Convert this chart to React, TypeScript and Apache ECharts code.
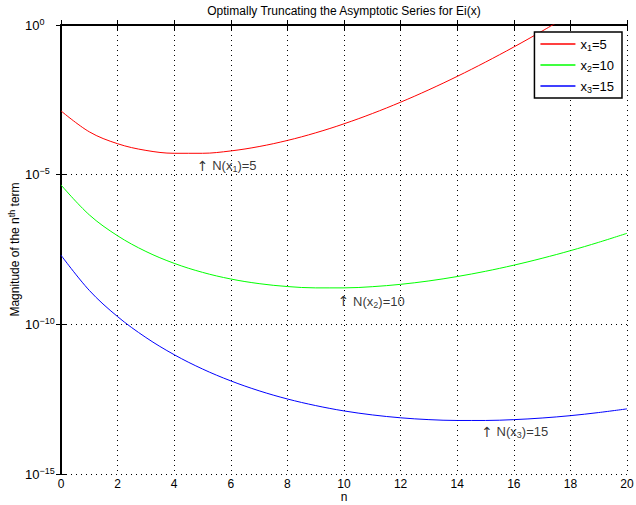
import React, { useEffect, useRef } from "react";
import * as echarts from "echarts";

const nValues = [0, 1, 2, 3, 4, 5, 6, 7, 8, 9, 10, 11, 12, 13, 14, 15, 16, 17, 18, 19, 20];

// Magnitude of the n-th term
const x1Series = [
  1.35e-3, 2.70e-4, 1.08e-4, 6.47e-5, 5.18e-5, 5.18e-5, 6.21e-5, 8.70e-5, 1.39e-4, 2.50e-4,
  5.00e-4, 1.10e-3, 2.64e-3, 6.86e-3, 1.92e-2, 5.76e-2, 0.184, 0.626, 2.25,
];
const x2Series = [
  4.54e-6, 4.54e-7, 9.08e-8, 2.72e-8, 1.09e-8, 5.45e-9, 3.27e-9, 2.29e-9, 1.83e-9, 1.65e-9,
  1.65e-9, 1.81e-9, 2.17e-9, 2.82e-9, 3.95e-9, 5.92e-9, 9.47e-9, 1.61e-8, 2.89e-8, 5.50e-8, 1.10e-7,
];
const x3Series = [
  2.04e-8, 1.36e-9, 1.81e-10, 3.63e-11, 9.67e-12, 3.22e-12, 1.29e-12, 6.02e-13, 3.21e-13, 1.93e-13,
  1.28e-13, 9.42e-14, 7.54e-14, 6.55e-14, 6.14e-14, 6.14e-14, 6.55e-14, 7.42e-14, 8.89e-14, 1.13e-13, 1.50e-13,
];

const seriesNames = ["x1=5", "x2=10", "x3=15"];
const legendRich = ["{n|x}{s|1}{n|=5}", "{n|x}{s|2}{n|=10}", "{n|x}{s|3}{n|=15}"];

// annotation positions (n, magnitude) and texts
const annotX = [4.8, 9.78, 14.85];
const annotY = [1.95e-5, 5.8e-10, 2.6e-14];
const annotText = ["{a|↑}{n| N(x}{s|1}{n|)=5}", "{a|↑}{n| N(x}{s|2}{n|)=10}", "{a|↑}{n| N(x}{s|3}{n|)=15}"];

const FONT = "Liberation Sans";

export default function App() {
  const ref = useRef<HTMLDivElement>(null);
  useEffect(() => {
    document.body.style.margin = "0";
    if (!ref.current) return;
    const chart = echarts.init(ref.current, null, { renderer: "svg" });
    const toPts = (arr: number[]) => arr.map((v, i) => [nValues[i], Math.log10(v)]);
    const subRich = {
      a: { fontSize: 14, fontFamily: "DejaVu Sans", color: "#000", lineHeight: 16 },
      n: { fontSize: 13, fontFamily: FONT, color: "#000", lineHeight: 16 },
      s: { fontSize: 9, fontFamily: FONT, color: "#000", lineHeight: 9, verticalAlign: "bottom", padding: [8, 0, 0, 0] },
    };
    const colors = ["#ff0000", "#00ff00", "#0000ff"];
    const datas = [x1Series, x2Series, x3Series];
    const option: any = {
      animation: false,
      backgroundColor: "#fff",
      grid: { left: 61, right: 9, top: 25, bottom: 31, containLabel: false, outerBoundsMode: "none" },
      graphic: [
        {
          type: "text",
          x: 344,
          y: 11,
          style: {
            text: "Optimally Truncating the Asymptotic Series for Ei(x)",
            fontSize: 12,
            fontFamily: FONT,
            fill: "#000",
            textAlign: "center",
            textVerticalAlign: "middle",
          },
        },
      ],
      legend: {
        orient: "vertical",
        right: 14,
        top: 32,
        data: seriesNames,
        icon: "rect",
        itemWidth: 35,
        itemHeight: 1.5,
        itemGap: 4,
        backgroundColor: "#fff",
        borderColor: "#000",
        borderWidth: 1.5,
        borderRadius: 0,
        padding: [3, 8, 4, 6],
        formatter: (name: string) => legendRich[seriesNames.indexOf(name)],
        textStyle: { rich: subRich, padding: [0, 0, 0, 0] },
      },
      xAxis: [
        {
          type: "value",
          min: 0,
          max: 20,
          interval: 2,
          name: "n",
          nameLocation: "middle",
          nameGap: 17,
          nameMoveOverlap: false,
          nameTextStyle: { fontSize: 12, fontFamily: FONT, color: "#000" },
          axisLine: { lineStyle: { color: "#000", width: 2 } },
          axisTick: { inside: true, length: 5, lineStyle: { color: "#000" } },
          axisLabel: { fontSize: 12, fontFamily: FONT, color: "#000", margin: 4 },
          splitLine: { show: true, lineStyle: { color: "#000", type: [1, 4], width: 1 } },
        },
        {
          type: "value",
          position: "top",
          min: 0,
          max: 20,
          interval: 2,
          axisLine: { lineStyle: { color: "#000", width: 1 } },
          axisTick: { inside: true, length: 5, lineStyle: { color: "#000" } },
          axisLabel: { show: false },
          splitLine: { show: false },
        },
      ],
      yAxis: [
        {
          type: "value",
          min: -15,
          max: 0,
          interval: 5,
          name: "{n|Magnitude of the n}{p|th}{n| term}",
          nameLocation: "middle",
          nameGap: 38,
          nameMoveOverlap: false,
          nameRotate: 90,
          nameTextStyle: {
            rich: {
              n: { fontSize: 12, fontFamily: FONT, color: "#000", lineHeight: 16 },
              p: { fontSize: 9, fontFamily: FONT, color: "#000", lineHeight: 9, verticalAlign: "top" },
            },
          },
          axisLine: { lineStyle: { color: "#000", width: 2 } },
          axisTick: { inside: true, length: 5, lineStyle: { color: "#000" } },
          axisLabel: {
            margin: 36,
            align: "left",
            formatter: (v: number) =>
              "{b|10}{s|" + (v === 0 ? "0" : "\u2212" + String(-v)) + "}",
            rich: {
              b: { fontSize: 13, fontFamily: FONT, color: "#000", lineHeight: 16 },
              s: { fontSize: 9, fontFamily: FONT, color: "#000", lineHeight: 9, verticalAlign: "top" },
            },
          },
          splitLine: { show: true, lineStyle: { color: "#000", type: [1, 4], width: 1 } },
        },
        {
          type: "value",
          position: "right",
          min: -15,
          max: 0,
          interval: 5,
          axisLine: { lineStyle: { color: "#000", width: 1 } },
          axisTick: { inside: true, length: 5, lineStyle: { color: "#000" } },
          axisLabel: { show: false },
          splitLine: { show: false },
        },
      ],
      series: [
        ...datas.map((d, i) => ({
          name: seriesNames[i],
          type: "line",
          data: toPts(d),
          showSymbol: false,
          symbol: "none",
          smooth: 0.35,
          clip: true,
          lineStyle: { color: colors[i], width: 1 },
          itemStyle: { color: colors[i] },
        })),
        {
          name: "annotations",
          type: "scatter",
          symbolSize: 0,
          silent: true,
          data: annotX.map((x, i) => ({
            value: [x, Math.log10(annotY[i])],
            label: {
              show: true,
              position: "right",
              distance: 0,
              formatter: annotText[i],
              rich: subRich,
            },
          })),
        },
      ],
    };
    chart.setOption(option);
    return () => chart.dispose();
  }, []);
  return <div ref={ref} style={{ width: 636, height: 505 }} />;
}
